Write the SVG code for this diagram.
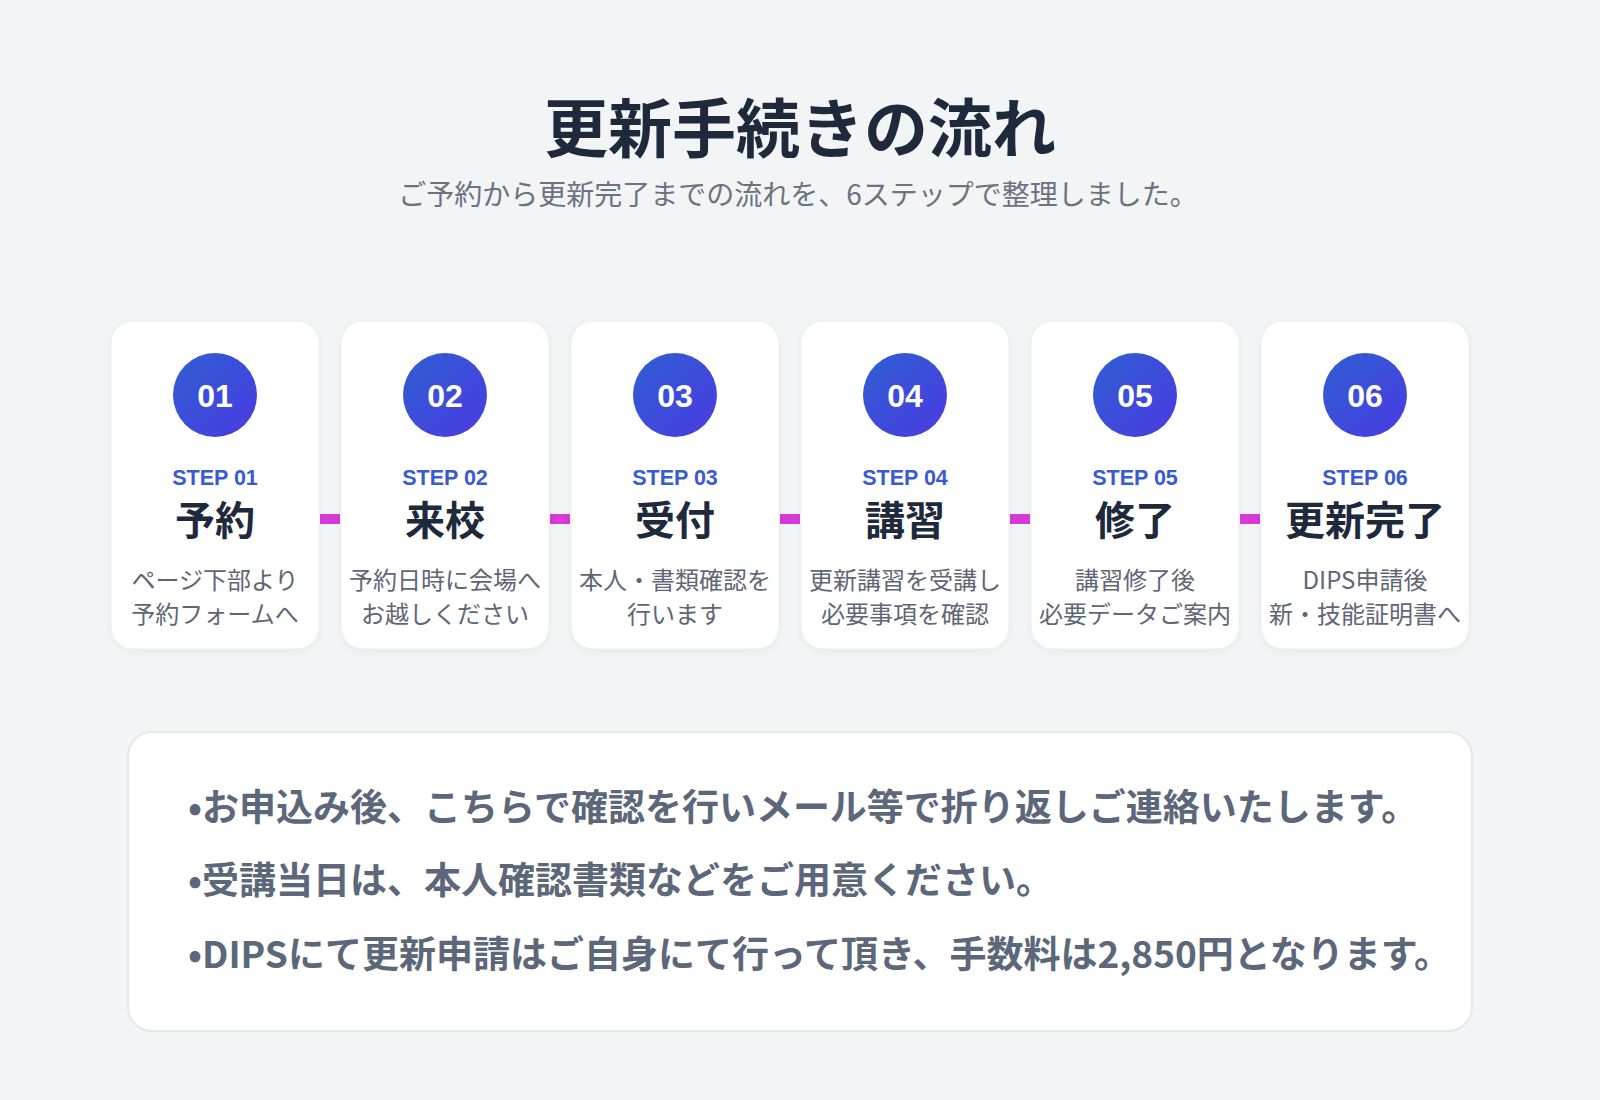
<svg xmlns="http://www.w3.org/2000/svg" width="1600" height="1100" viewBox="0 0 1600 1100">
<defs>
<linearGradient id="cg" x1="0" y1="0" x2="1" y2="1">
<stop offset="0" stop-color="#2f5fd2"/>
<stop offset="1" stop-color="#4a3ae2"/>
</linearGradient>
<filter id="sh" x="-10%" y="-10%" width="120%" height="120%">
<feDropShadow dx="0" dy="2" stdDeviation="3" flood-color="#0f172a" flood-opacity="0.05"/>
</filter>
<style>
.card{fill:#ffffff;stroke:#eceef2;stroke-width:1;filter:url(#sh)}
.num{font-family:"Liberation Sans",Arial,sans-serif;font-weight:700;font-size:32px;fill:#ffffff;text-anchor:middle}
.step{font-family:"Liberation Sans",Arial,sans-serif;font-weight:700;font-size:21.5px;fill:#3a5ad2;text-anchor:middle}
.ttl{font-family:"Noto Sans CJK JP",sans-serif;font-weight:700;font-size:40px;fill:#1e293b;text-anchor:middle}
.desc{font-family:"Noto Sans CJK JP",sans-serif;font-weight:400;font-size:24px;fill:#5f6675;text-anchor:middle}
.conn{fill:#d63bd6}
.note{font-family:"Noto Sans CJK JP",sans-serif;font-weight:700;font-size:37px;fill:#5d677a}
</style>
</defs>
<rect x="0" y="0" width="1600" height="1100" fill="#f3f4f6"/>
<g id="header">
<text x="800" y="152" text-anchor="middle" font-family="Noto Sans CJK JP, sans-serif" font-weight="700" font-size="64" fill="#1e293b">更新手続きの流れ</text>
<text x="798" y="205" text-anchor="middle" font-family="Noto Sans CJK JP, sans-serif" font-size="28" fill="#6b7280">ご予約から更新完了までの流れを、6ステップで整理しました。</text>
</g>
<g id="connectors">
<rect class="conn" x="320" y="514" width="20" height="10"/>
<rect class="conn" x="550" y="514" width="20" height="10"/>
<rect class="conn" x="780" y="514" width="20" height="10"/>
<rect class="conn" x="1010" y="514" width="20" height="10"/>
<rect class="conn" x="1240" y="514" width="20" height="10"/>
</g>
<g id="step1">
<rect class="card" x="111" y="321" width="208" height="328" rx="22"/>
<circle cx="215" cy="395" r="42" fill="url(#cg)"/>
<text class="num" x="215" y="406.5">01</text>
<text class="step" x="215" y="485">STEP 01</text>
<text class="ttl" x="215" y="535">予約</text>
<text class="desc" x="215" y="589">ページ下部より</text>
<text class="desc" x="215" y="623">予約フォームへ</text>
</g>
<g id="step2">
<rect class="card" x="341" y="321" width="208" height="328" rx="22"/>
<circle cx="445" cy="395" r="42" fill="url(#cg)"/>
<text class="num" x="445" y="406.5">02</text>
<text class="step" x="445" y="485">STEP 02</text>
<text class="ttl" x="445" y="535">来校</text>
<text class="desc" x="445" y="589">予約日時に会場へ</text>
<text class="desc" x="445" y="623">お越しください</text>
</g>
<g id="step3">
<rect class="card" x="571" y="321" width="208" height="328" rx="22"/>
<circle cx="675" cy="395" r="42" fill="url(#cg)"/>
<text class="num" x="675" y="406.5">03</text>
<text class="step" x="675" y="485">STEP 03</text>
<text class="ttl" x="675" y="535">受付</text>
<text class="desc" x="675" y="589">本人・書類確認を</text>
<text class="desc" x="675" y="623">行います</text>
</g>
<g id="step4">
<rect class="card" x="801" y="321" width="208" height="328" rx="22"/>
<circle cx="905" cy="395" r="42" fill="url(#cg)"/>
<text class="num" x="905" y="406.5">04</text>
<text class="step" x="905" y="485">STEP 04</text>
<text class="ttl" x="905" y="535">講習</text>
<text class="desc" x="905" y="589">更新講習を受講し</text>
<text class="desc" x="905" y="623">必要事項を確認</text>
</g>
<g id="step5">
<rect class="card" x="1031" y="321" width="208" height="328" rx="22"/>
<circle cx="1135" cy="395" r="42" fill="url(#cg)"/>
<text class="num" x="1135" y="406.5">05</text>
<text class="step" x="1135" y="485">STEP 05</text>
<text class="ttl" x="1135" y="535">修了</text>
<text class="desc" x="1135" y="589">講習修了後</text>
<text class="desc" x="1135" y="623">必要データご案内</text>
</g>
<g id="step6">
<rect class="card" x="1261" y="321" width="208" height="328" rx="22"/>
<circle cx="1365" cy="395" r="42" fill="url(#cg)"/>
<text class="num" x="1365" y="406.5">06</text>
<text class="step" x="1365" y="485">STEP 06</text>
<text class="ttl" x="1365" y="535">更新完了</text>
<text class="desc" x="1365" y="589">DIPS申請後</text>
<text class="desc" x="1365" y="623">新・技能証明書へ</text>
</g>
<g id="notes">
<rect x="128" y="732" width="1344" height="299" rx="24" fill="#ffffff" stroke="#e5e7eb" stroke-width="2"/>
<text class="note" x="188" y="821">•お申込み後、こちらで確認を行いメール等で折り返しご連絡いたします。</text>
<text class="note" x="188" y="894">•受講当日は、本人確認書類などをご用意ください。</text>
<text class="note" x="188" y="968">•DIPSにて更新申請はご自身にて行って頂き、手数料は2,850円となります。</text>
</g>
</svg>
